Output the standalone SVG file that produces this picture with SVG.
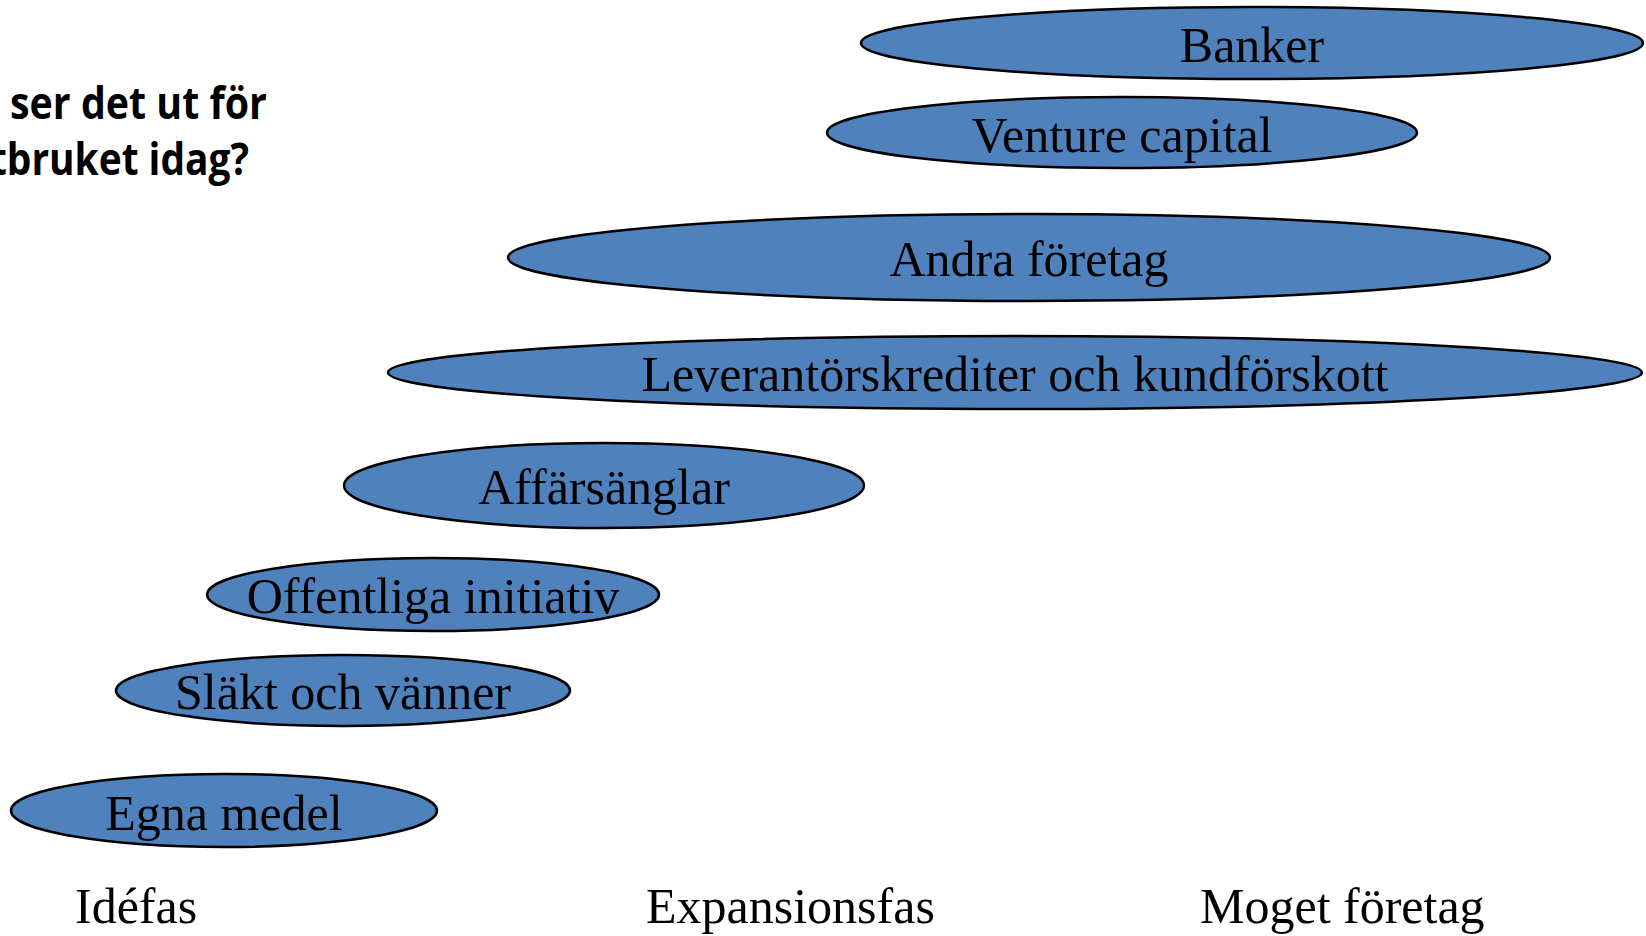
<svg xmlns="http://www.w3.org/2000/svg" width="1646" height="936" viewBox="0 0 1646 936">
<style>
.node ellipse{fill:#4F81BD;stroke:#000;stroke-width:2.5}
.lbl{font-family:"Liberation Serif","Times New Roman",serif;font-size:50px;fill:#000}
.c{text-anchor:middle}
.title{font-family:"Open Sans","Liberation Sans",sans-serif;font-weight:bold;font-size:45px;fill:#000}
</style>
<rect width="1646" height="936" fill="#fff"/>
<g id="title">
<text class="title" x="10" y="119" textLength="257" lengthAdjust="spacingAndGlyphs">ser det ut för</text>
<text class="title" x="-10" y="175" textLength="259" lengthAdjust="spacingAndGlyphs">tbruket idag?</text>
</g>
<g id="connectors"></g>
<g id="banker" class="node"><ellipse cx="1252" cy="43" rx="391" ry="36"/><text class="lbl c" x="1252" y="62">Banker</text></g>
<g id="venture" class="node"><ellipse cx="1122" cy="132.5" rx="295" ry="35.5"/><text class="lbl c" x="1122" y="152">Venture capital</text></g>
<g id="andra" class="node"><ellipse cx="1029" cy="257.5" rx="521" ry="43.5"/><text class="lbl c" x="1029" y="276">Andra företag</text></g>
<g id="leverantor" class="node"><ellipse cx="1015" cy="372.5" rx="627" ry="36.5"/><text class="lbl c" x="1015" y="391">Leverantörskrediter och kundförskott</text></g>
<g id="affarsanglar" class="node"><ellipse cx="604" cy="485.5" rx="260" ry="42.5"/><text class="lbl c" x="604" y="504">Affärsänglar</text></g>
<g id="offentliga" class="node"><ellipse cx="433" cy="594.5" rx="226" ry="36.5"/><text class="lbl c" x="433" y="613">Offentliga initiativ</text></g>
<g id="slakt" class="node"><ellipse cx="343" cy="690.5" rx="227" ry="35.5"/><text class="lbl c" x="343" y="709">Släkt och vänner</text></g>
<g id="egna" class="node"><ellipse cx="224" cy="810.5" rx="213" ry="36.5"/><text class="lbl c" x="224" y="830">Egna medel</text></g>
<g id="axis">
<text class="lbl" x="75" y="923">Idéfas</text>
<text class="lbl" x="646" y="923">Expansionsfas</text>
<text class="lbl" x="1200" y="923">Moget företag</text>
</g>
</svg>
